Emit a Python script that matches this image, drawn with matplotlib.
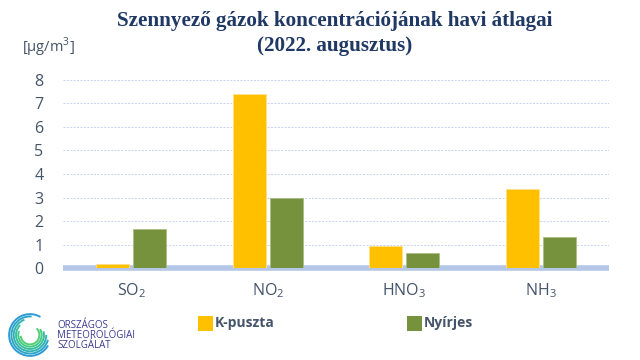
import matplotlib
matplotlib.use("Agg")
import matplotlib.pyplot as plt
import numpy as np
from matplotlib.patches import Arc, Rectangle

categories = ["$\\mathregular{SO_2}$", "$\\mathregular{NO_2}$", "$\\mathregular{HNO_3}$", "$\\mathregular{NH_3}$"]
series_names = ["K-puszta", "Nyírjes"]
kpuszta = [0.2, 7.37, 0.96, 3.35]
nyirjes = [1.67, 3.0, 0.66, 1.33]
yticks = [0, 1, 2, 3, 4, 5, 6, 7, 8]

c_yellow = "#FFC000"
c_green = "#76923C"
c_text = "#44546A"
c_title = "#1F3864"
c_grid = "#C5D3EC"
c_base = "#B4C7E7"

plt.rcParams['font.family'] = ['Open Sans', 'DejaVu Sans']
plt.rcParams['mathtext.fontset'] = 'custom'
plt.rcParams['mathtext.rm'] = 'Open Sans'

fig = plt.figure(figsize=(6.4, 3.6), dpi=100)
ax = fig.add_axes([63/640, 1-268.3/360, (609-63)/640, (268.3-79.6)/360])

x = np.arange(len(categories))
w = 0.245
gap = 0.013
ax.bar(x - w/2 - gap, kpuszta, w, color=c_yellow, zorder=3, edgecolor="#FFE08A", linewidth=0.6)
ax.bar(x + w/2 + gap, nyirjes, w, color=c_green, zorder=3, edgecolor="#A9BE86", linewidth=0.6)

ax.set_xlim(-0.5, len(categories) - 0.5)
ax.set_ylim(0, 8)
ax.set_yticks(yticks)
ax.set_yticklabels([str(t) for t in yticks], fontsize=11.5, color=c_text)
ax.set_xticks(x)
ax.set_xticklabels(categories, fontsize=11.5, color=c_text)
ax.tick_params(axis='both', length=0)
ax.tick_params(axis='y', pad=14)
ax.tick_params(axis='x', pad=9)
for s in ax.spines.values():
    s.set_visible(False)
for t in yticks[1:]:
    ax.axhline(t, color=c_grid, lw=0.7, ls=(0, (2, 1.5)), zorder=1)
ax.axhline(0, color=c_base, lw=4.0, zorder=2, solid_capstyle='butt', clip_on=False)

fig.text(0.523, 0.942, "Szennyező gázok koncentrációjának havi átlagai", ha='center', va='center',
         fontsize=15.2, fontweight='bold', color=c_title, family=['Liberation Serif'])
fig.text(0.523, 0.873, "(2022. augusztus)", ha='center', va='center',
         fontsize=15.2, fontweight='bold', color=c_title, family=['Liberation Serif'])
fig.text(22/640, 1-47/360, "[µg/m$^{\\mathregular{3}}$]", ha='left', va='center', fontsize=10.5, color=c_text)

# legend
for xs, col, name in [(198, c_yellow, series_names[0]), (407, c_green, series_names[1])]:
    fig.patches.append(Rectangle((xs/640, 1-331/360), 15/640, 15/360, transform=fig.transFigure,
                                 facecolor=col, edgecolor='none'))
    fig.text((xs+17)/640, 1-323/360, name, ha='left', va='center', fontsize=10, fontweight='bold', color=c_text)

# logo swirl
lax = fig.add_axes([6/640, 1-358/360, 48/640, 46/360])
lax.set_xlim(-1.15, 1.15)
lax.set_ylim(-1.1, 1.1)
lax.set_aspect('equal')
lax.axis('off')
cols = ["#2E9BD6", "#2FA6C8", "#33B3B4", "#3ABF9C", "#45C985", "#52CF73"]
for i, r in enumerate(np.linspace(1.0, 0.45, 6)):
    lax.add_patch(Arc((0, 0), 2*r, 2*r, theta1=60 + i*25, theta2=330 + i*15, color=cols[i], lw=1.4))
fig.text(57/640, 1-325/360, "ORSZÁGOS", fontsize=7, color="#3B3A8F", va='center')
fig.text(57/640, 1-335.5/360, "METEOROLÓGIAI", fontsize=7, color="#3B3A8F", va='center')
fig.text(57/640, 1-346/360, "SZOLGÁLAT", fontsize=7, color="#3B3A8F", va='center')

fig.savefig("out.png", dpi=100)
